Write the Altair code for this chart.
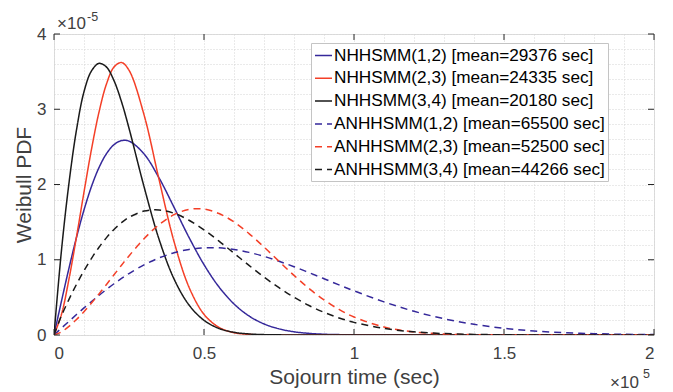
import altair as alt
import pandas as pd

# Sojourn time (x 1e5 sec)
x_vals = [0, 0.025, 0.05, 0.075, 0.1, 0.125, 0.15, 0.175, 0.2, 0.225, 0.25,
          0.3, 0.35, 0.4, 0.45, 0.5, 0.55, 0.6, 0.65, 0.7, 0.75, 0.8, 0.85, 0.9, 0.95, 1.0,
          1.1, 1.2, 1.3, 1.4, 1.5, 1.6, 1.7, 1.8, 1.9, 2.0]

# Weibull PDF values (x 1e-5)
n12 = [0, 0.452, 0.889, 1.297, 1.662, 1.974, 2.225, 2.410, 2.529, 2.583, 2.577,
       2.407, 2.089, 1.698, 1.297, 0.935, 0.638, 0.413, 0.253, 0.147, 0.082, 0.043, 0.022, 0.010, 0.005, 0.002,
       0, 0, 0, 0, 0, 0, 0, 0, 0, 0]
n23 = [0, 0.276, 0.745, 1.305, 1.899, 2.469, 2.962, 3.337, 3.561, 3.621, 3.519,
       2.928, 2.069, 1.243, 0.636, 0.275, 0.101, 0.031, 0.008, 0.002, 0, 0, 0, 0, 0, 0,
       0, 0, 0, 0, 0, 0, 0, 0, 0, 0]
n34 = [0, 1.128, 2.021, 2.727, 3.233, 3.510, 3.610, 3.560, 3.380, 3.100, 2.748,
       1.973, 1.274, 0.746, 0.399, 0.195, 0.087, 0.036, 0.014, 0.005, 0.002, 0.0005, 0, 0, 0, 0,
       0, 0, 0, 0, 0, 0, 0, 0, 0, 0]
a12 = [0, 0.092, 0.182, 0.272, 0.360, 0.445, 0.527, 0.606, 0.681, 0.751, 0.817,
       0.932, 1.024, 1.093, 1.137, 1.158, 1.158, 1.137, 1.098, 1.045, 0.980, 0.908, 0.829, 0.748, 0.666, 0.587,
       0.440, 0.315, 0.216, 0.142, 0.089, 0.054, 0.031, 0.018, 0.009, 0.005]
a23 = [0, 0.042, 0.115, 0.206, 0.310, 0.425, 0.546, 0.672, 0.800, 0.927, 1.051,
       1.279, 1.466, 1.599, 1.669, 1.673, 1.614, 1.502, 1.348, 1.169, 0.979, 0.792, 0.618, 0.466, 0.340, 0.239,
       0.106, 0.041, 0.013, 0.004, 0.001, 0, 0, 0, 0, 0]
a34 = [0, 0.257, 0.474, 0.673, 0.855, 1.019, 1.166, 1.294, 1.403, 1.492, 1.563,
       1.647, 1.662, 1.618, 1.525, 1.398, 1.248, 1.087, 0.925, 0.770, 0.628, 0.502, 0.392, 0.301, 0.227, 0.168,
       0.087, 0.042, 0.019, 0.008, 0.003, 0.001, 0, 0, 0, 0]

names = ["NHHSMM(1,2) [mean=29376 sec]", "NHHSMM(2,3) [mean=24335 sec]",
         "NHHSMM(3,4) [mean=20180 sec]", "ANHHSMM(1,2) [mean=65500 sec]",
         "ANHHSMM(2,3) [mean=52500 sec]", "ANHHSMM(3,4) [mean=44266 sec]"]
series = [n12, n23, n34, a12, a23, a34]
colors = ["#35289a", "#f43f27", "#1a1a1a", "#35289a", "#f43f27", "#1a1a1a"]
dashes = [[1, 0], [1, 0], [1, 0], [7, 5], [7, 5], [7, 5]]

x_major = [0, 0.5, 1, 1.5, 2]
y_major = [0, 1, 2, 3, 4]
x_grid = [round(i * 0.1, 1) for i in range(21)]
y_grid = [round(i * 0.2, 1) for i in range(21)]

rows = []
for name, ys in zip(names, series):
    for xv, yv in zip(x_vals, ys):
        rows.append({"x": xv, "y": yv, "series": name})
df = pd.DataFrame(rows)

W, H = 600, 301
AX = "#262626"
TXT = "#404040"
FONT = "Liberation Sans"

xscale = alt.Scale(domain=[0, 2], nice=False, zero=False)
yscale = alt.Scale(domain=[0, 4], nice=False, zero=False)

xaxis = alt.Axis(values=x_grid, grid=True, gridColor="#d4d4d4", gridDash=[1, 2], gridWidth=1,
                 ticks=False, domain=False, labelOverlap=False,
                 labelExpr="abs(datum.value*2 - round(datum.value*2)) < 0.001 ? format(datum.value, '~g') : ''",
                 labelFont=FONT, labelFontSize=17, labelColor=TXT, labelPadding=10,
                 title="Sojourn time (sec)", titleFont=FONT, titleFontSize=21,
                 titleFontWeight="normal", titleColor=TXT, titlePadding=5)
yaxis = alt.Axis(values=y_grid, grid=True, gridColor="#d4d4d4", gridDash=[1, 2], gridWidth=1,
                 ticks=False, domain=False, labelOverlap=False,
                 labelExpr="abs(datum.value - round(datum.value)) < 0.001 ? format(datum.value, '~g') : ''",
                 labelFont=FONT, labelFontSize=17, labelColor=TXT, labelPadding=8,
                 title="Weibull PDF", titleFont=FONT, titleFontSize=21,
                 titleFontWeight="normal", titleColor=TXT, titlePadding=2)

legend = alt.Legend(orient="none", legendX=257, legendY=9, title=None,
                    symbolType="stroke", symbolSize=289, symbolStrokeWidth=1.5,
                    labelFont=FONT, labelFontSize=17.2, labelColor="#000000", labelLimit=400,
                    labelOffset=1, rowPadding=4.8, padding=3,
                    strokeColor="#c4c4c4", fillColor="#ffffff")

X = alt.X("x:Q", scale=xscale, axis=xaxis)
Y = alt.Y("y:Q", scale=yscale, axis=yaxis)

lines = alt.Chart(df).mark_line(strokeWidth=1.5, interpolate="catmull-rom", clip=True).encode(
    x=X,
    y=Y,
    color=alt.Color("series:N", scale=alt.Scale(domain=names, range=colors), legend=legend),
    strokeDash=alt.StrokeDash("series:N", scale=alt.Scale(domain=names, range=dashes), legend=legend),
    detail="series:N",
)

xt = pd.DataFrame({"x": x_major})
yt = pd.DataFrame({"y": y_major})
tick_bottom = alt.Chart(xt).mark_rule(color=AX, strokeWidth=1).encode(
    x=X, y=alt.value(H), y2=alt.value(H - 6))
tick_top = alt.Chart(xt).mark_rule(color=AX, strokeWidth=1).encode(
    x=X, y=alt.value(0), y2=alt.value(6))
tick_left = alt.Chart(yt).mark_rule(color=AX, strokeWidth=1).encode(
    y=Y, x=alt.value(0), x2=alt.value(6))
tick_right = alt.Chart(yt).mark_rule(color=AX, strokeWidth=1).encode(
    y=Y, x=alt.value(W), x2=alt.value(W - 6))

one = pd.DataFrame({"k": [0]})
exp_a = alt.Chart(one).mark_text(align="left", baseline="alphabetic", font=FONT, fontSize=17,
                                 color=TXT).encode(x=alt.value(3), y=alt.value(-5), text=alt.value("\u00d710"))
exp_b = alt.Chart(one).mark_text(align="left", baseline="alphabetic", font=FONT, fontSize=12.5,
                                 color=TXT).encode(x=alt.value(33), y=alt.value(-13), text=alt.value("-5"))
exp_c = alt.Chart(one).mark_text(align="left", baseline="alphabetic", font=FONT, fontSize=17,
                                 color=TXT).encode(x=alt.value(556), y=alt.value(354), text=alt.value("\u00d710"))
exp_d = alt.Chart(one).mark_text(align="left", baseline="alphabetic", font=FONT, fontSize=12.5,
                                 color=TXT).encode(x=alt.value(589), y=alt.value(344), text=alt.value("5"))

chart = alt.layer(lines, tick_bottom, tick_top, tick_left, tick_right,
                  exp_a, exp_b, exp_c, exp_d).properties(
    width=W, height=H,
    autosize=alt.AutoSizeParams(type="none"),
    padding={"left": 46, "top": 26, "right": 11, "bottom": 57},
).configure_view(stroke=AX, strokeWidth=1).configure(background="#ffffff")

chart.save("out.html", embed_options={"renderer": "svg", "actions": False})
